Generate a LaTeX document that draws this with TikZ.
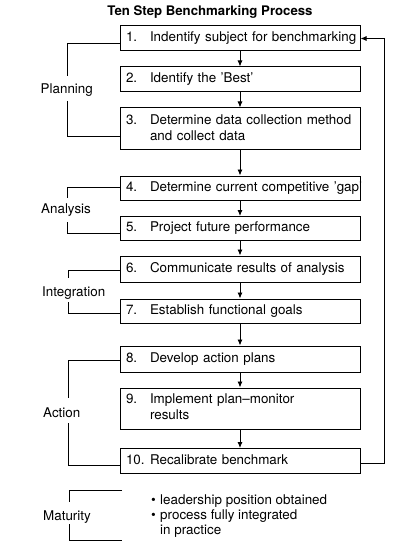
\documentclass[tikz,border=0pt]{standalone}
\usepackage{fontspec}
\setmainfont{TeX Gyre Heros}
\usetikzlibrary{arrows.meta}
\newcommand{\stepno}[2]{\makebox[24pt][l]{#1}\begin{tabular}[t]{@{}l@{}}#2\end{tabular}}
\begin{document}
\begin{tikzpicture}[x=1pt,y=-1pt,
  stepbox/.style={draw, line width=1pt, text width=228pt, inner xsep=6pt, inner ysep=0pt,
     minimum height=25pt, align=left, font=\fontsize{13.4}{16}\selectfont},
  grplabel/.style={inner sep=0pt, anchor=base west, font=\fontsize{13.4}{16}\selectfont},
  grpline/.style={line width=0.85pt},
  flow/.style={line width=0.85pt, -{Latex[length=6pt,width=5pt]}}]
\useasboundingbox (0,0) rectangle (412,548);

\node[anchor=base, inner sep=0pt, font=\bfseries\fontsize{13.2}{15}\selectfont] (title) at (210,15.5) {Ten Step Benchmarking Process};

\node[stepbox] (b1) at (240,38.5) {\stepno{1.}{Indentify subject for benchmarking}};
\node[stepbox] (b2) at (240,79.5) {\stepno{2.}{Identify the 'Best'}};
\node[stepbox, minimum height=42pt] (b3) at (240,129) {\stepno{3.}{Determine data collection method\\and collect data}};
\node[stepbox, minimum height=24pt] (b4) at (240,188) {\stepno{4.}{Determine current competitive 'gap'}};
\node[stepbox, minimum height=24pt] (b5) at (240,228.5) {\stepno{5.}{Project future performance}};
\node[stepbox, minimum height=26pt] (b6) at (240,269) {\stepno{6.}{Communicate results of analysis}};
\node[stepbox, minimum height=24pt] (b7) at (240,311) {\stepno{7.}{Establish functional goals}};
\node[stepbox, minimum height=26pt] (b8) at (240,359) {\stepno{8.}{Develop action plans}};
\node[stepbox, minimum height=41pt] (b9) at (240,408.5) {\stepno{9.}{Implement plan--monitor\\results}};
\node[stepbox] (b10) at (240,461) {\stepno{10.}{Recalibrate benchmark}};

\draw[flow] (b1.south) -- (b2.north);
\draw[flow] (b2.south) -- (b3.north);
\draw[flow] (b3.south) -- (b4.north);
\draw[flow] (b4.south) -- (b5.north);
\draw[flow] (b5.south) -- (b6.north);
\draw[flow] (b6.south) -- (b7.north);
\draw[flow] (b7.south) -- (b8.north);
\draw[flow] (b8.south) -- (b9.north);
\draw[flow] (b9.south) -- (b10.north);

\coordinate (fb) at (384,0);
\draw[flow] ([yshift=-2pt]b10.east) -| (fb |- b1.east) -- (b1.east);

% group labels
\node[grplabel] (plan) at (40.5,94) {Planning};
\node[grplabel] (anal) at (41,213.5) {Analysis};
\node[grplabel] (integ) at (42,296) {Integration};
\node[grplabel] (act) at (43,417) {Action};
\node[grplabel] (mat) at (43,520) {Maturity};

\coordinate (p1) at (67,76);   \coordinate (p2) at (67,101);
\coordinate (a1) at (67,198);  \coordinate (a2) at (67,222);
\coordinate (i1) at (68,278);  \coordinate (i2) at (68,302);
\coordinate (c1) at (68,398);  \coordinate (c2) at (68,423);
\coordinate (m1) at (69,502);  \coordinate (m2) at (69,524);
\coordinate (mt) at (122,490); \coordinate (mb) at (122,540);

\draw[grpline] ([yshift=-4.5pt]b1.west) -| (p1);
\draw[grpline] (p2) |- ([yshift=-7pt]b3.west);
\draw[grpline] ([yshift=1pt]b4.west) -| (a1);
\draw[grpline] (a2) |- ([yshift=-4.5pt]b5.west);
\draw[grpline] ([yshift=-1pt]b6.west) -| (i1);
\draw[grpline] (i2) |- ([yshift=-2pt]b7.west);
\draw[grpline] ([yshift=-1pt]b8.west) -| (c1);
\draw[grpline] (c2) |- ([yshift=-4pt]b10.west);
\draw[grpline] (mt) -| (m1);
\draw[grpline] (m2) |- (mb);

\node[inner sep=0pt, anchor=base west, font=\fontsize{13.4}{15}\selectfont] (mtext) at (151,504)
  {\begin{tabular}[t]{@{}l@{}}\makebox[9pt][l]{•}leadership position obtained\\\makebox[9pt][l]{•}process fully integrated\\\hspace*{9pt}in practice\end{tabular}};
\end{tikzpicture}
\end{document}
